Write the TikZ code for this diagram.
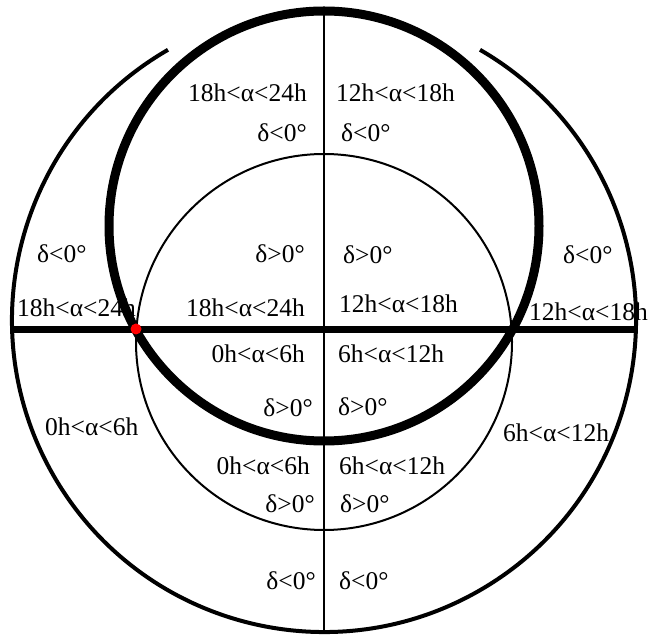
\documentclass[tikz,border=0pt]{standalone}
\usepackage{fontspec}
\setmainfont{Liberation Serif}
\begin{document}
\begin{tikzpicture}[x=1pt,y=1pt,
  lab/.style={inner sep=0pt,font=\fontsize{25.5}{30}\selectfont},
  labL/.style={lab,anchor=base west},
  labR/.style={lab,anchor=base east},
  thinring/.style={line width=2pt},
  thickring/.style={line width=9pt},
  outerring/.style={line width=4pt},
  axisH/.style={line width=7pt},
  axisV/.style={line width=2pt}]
\useasboundingbox[fill=white] (0,0) rectangle (658,634);
% centres
\coordinate (cO) at (324,314);
\coordinate (cI) at (324,292);
\coordinate (cT) at (324,408);
\coordinate (hl) at (12.2,304);
\coordinate (hr) at (635.8,304);
\coordinate (vt) at (323.5,623);
\coordinate (vb) at (323.5,2);
\coordinate (oS) at (168,584.2);
% outer ring with gap at top
\draw[outerring] (oS) arc[start angle=120,end angle=420,radius=312];
% thin inner circle
\draw[thinring] (cI) circle[radius=188];
% thick circle
\draw[thickring] (cT) circle[radius=215];
% axes
\draw[axisV] (vt) -- (vb);
\draw[axisH] (hl) -- (hr);
% red point
\fill[red] (136,305) circle[radius=5.5];
% labels
\node[labR] (t1) at (307,532) {18h<α<24h};
\node[labL] (t2) at (336,532) {12h<α<18h};
\node[labR] (t3) at (307,492) {δ<0°};
\node[labL] (t4) at (341,492) {δ<0°};
\node[labL] (t5) at (37,371) {δ<0°};
\node[labR] (t6) at (305,371) {δ>0°};
\node[labL] (t7) at (343,370) {δ>0°};
\node[labL] (t8) at (563,370) {δ<0°};
\node[labL] (t9) at (17,317) {18h<α<24h};
\node[labR] (t10) at (305,317) {18h<α<24h};
\node[labL] (t11) at (339,321) {12h<α<18h};
\node[labL] (t12) at (529,313) {12h<α<18h};
\node[labR] (t13) at (305,271) {0h<α<6h};
\node[labL] (t14) at (338,271) {6h<α<12h};
\node[labR] (t15) at (313,217) {δ>0°};
\node[labL] (t16) at (338,218) {δ>0°};
\node[labL] (t17) at (45,198) {0h<α<6h};
\node[labL] (t18) at (503,192) {6h<α<12h};
\node[labR] (t19) at (310,159) {0h<α<6h};
\node[labL] (t20) at (339,159) {6h<α<12h};
\node[labR] (t21) at (315,121) {δ>0°};
\node[labL] (t22) at (340,121) {δ>0°};
\node[labR] (t23) at (316,45) {δ<0°};
\node[labL] (t24) at (339,45) {δ<0°};
\end{tikzpicture}
\end{document}
